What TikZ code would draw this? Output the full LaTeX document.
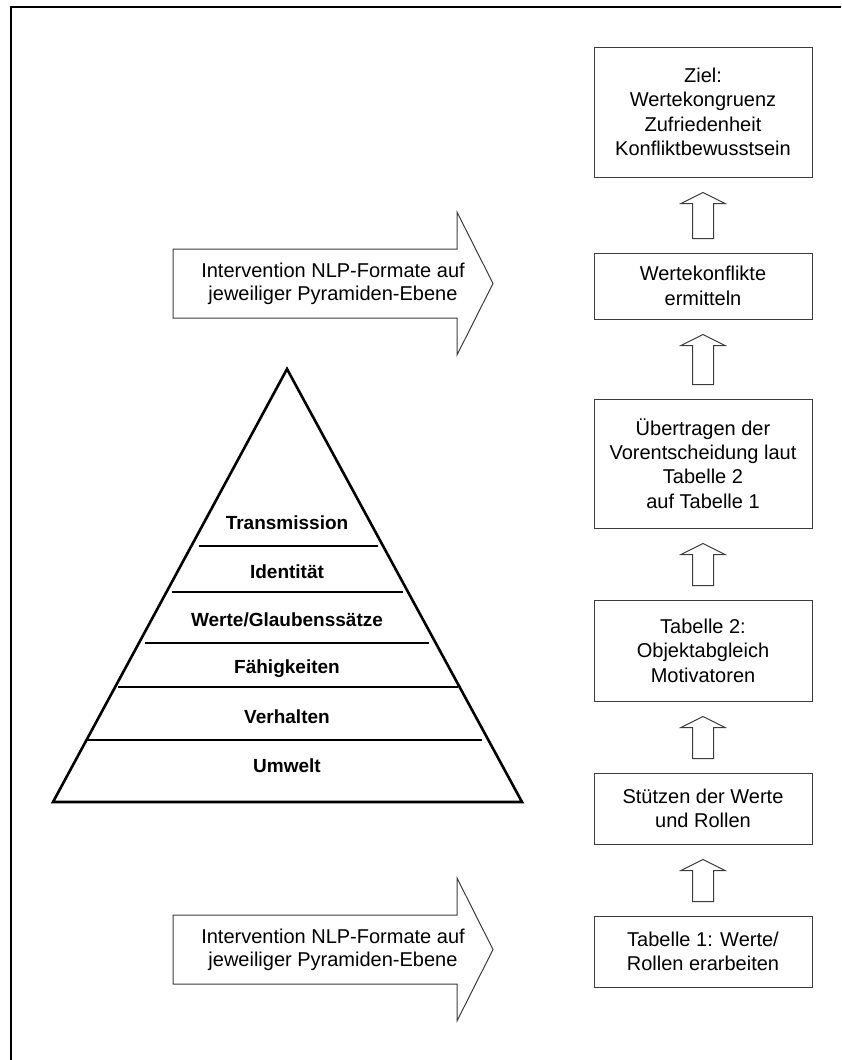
\documentclass[tikz,border=0pt]{standalone}
\usepackage{fontspec}
\setmainfont{Liberation Sans}
\usetikzlibrary{calc}
\definecolor{framegray}{RGB}{60,60,60}

\tikzset{
  stepbox/.style={draw=framegray, line width=0.5pt, align=center, minimum width=109pt,
    inner sep=2pt, font=\fontsize{10}{12.2}\selectfont},
  blockarrow/.style={draw=framegray, line width=0.5pt, fill=white, line join=miter},
  layer/.style={font=\fontsize{9.5}{11}\selectfont\bfseries},
  bigarrowtext/.style={align=center, font=\fontsize{10}{11.4}\selectfont},
}

% upward block arrow from lower box #1 to upper box #2
\newcommand{\blockup}[2]{%
  \draw[blockarrow] ($(#1.north)+(-10.5,-14)$) -- ($(#2.south)+(-10.5,26)$)
    -- ($(#2.south)+(-22,26)$) -- ($(#2.south)+(0,15)$) -- ($(#2.south)+(22,26)$)
    -- ($(#2.south)+(10.5,26)$) -- ($(#1.north)+(10.5,-14)$) -- cycle;}

\begin{document}
\begin{tikzpicture}[x=0.5pt, y=-0.5pt]
            \useasboundingbox (0,0) rectangle (841,1060);
            % Frame
            \draw[line width=1pt] (11,1060) -- (11,7) -- (841,7);

            % Steps on the right
            \node[stepbox, minimum height=65pt] (ziel) at (703,112)
              {Ziel:\\Wertekongruenz\\Zufriedenheit\\Konfliktbewusstsein};
            \node[stepbox, minimum height=33pt] (konflikte) at (703,286)
              {Wertekonflikte\\ermitteln};
            \node[stepbox, minimum height=64.5pt] (uebertragen) at (703,463.5)
              {Übertragen der\\Vorentscheidung laut\\Tabelle 2\\auf Tabelle 1};
            \node[stepbox, minimum height=50.5pt] (tabzwei) at (703,650.5)
              {Tabelle 2:\\Objektabgleich\\Motivatoren};
            \node[stepbox, minimum height=35.5pt] (stuetzen) at (703,808.5)
              {Stützen der Werte\\und Rollen};
            \node[stepbox, minimum height=35.5pt] (tabeins) at (703,951.5)
              {Tabelle 1: Werte/\\Rollen erarbeiten};

            % Arrows between steps
            \blockup{tabeins}{stuetzen}
            \blockup{stuetzen}{tabzwei}
            \blockup{tabzwei}{uebertragen}
            \blockup{uebertragen}{konflikte}
            \blockup{konflikte}{ziel}

            % Intervention arrows
            \draw[blockarrow] (173,249) -- (457,249) -- (457,212) -- (493,283.5)
              -- (457,355) -- (457,318) -- (173,318) -- cycle;
            \node[bigarrowtext] (interventionoben) at (333,284)
              {Intervention NLP-Formate auf\\jeweiliger Pyramiden-Ebene};
            \draw[blockarrow] (173,915) -- (457,915) -- (457,878) -- (493,949.5)
              -- (457,1021) -- (457,984) -- (173,984) -- cycle;
            \node[bigarrowtext] (interventionunten) at (333,950)
              {Intervention NLP-Formate auf\\jeweiliger Pyramiden-Ebene};

            % Pyramid
            \draw[line width=1.3pt, line join=miter] (287,369) -- (522,802) -- (53,802) -- cycle;
            \draw[line width=0.8pt] (199,546) -- (378,546);
            \draw[line width=0.8pt] (172,592) -- (403,592);
            \draw[line width=0.8pt] (145,643) -- (429,643);
            \draw[line width=0.8pt] (118,687) -- (458,687);
            \draw[line width=0.8pt] (87,740) -- (482,740);
            \node[layer] (transmission) at (287,523) {Transmission};
            \node[layer] (identitaet) at (287,572) {Identität};
            \node[layer] (werte) at (287,620) {Werte/Glaubenssätze};
            \node[layer] (faehigkeiten) at (287,669) {Fähigkeiten};
            \node[layer] (verhalten) at (287,717) {Verhalten};
            \node[layer] (umwelt) at (287,766) {Umwelt};
        \end{tikzpicture}
\end{document}
